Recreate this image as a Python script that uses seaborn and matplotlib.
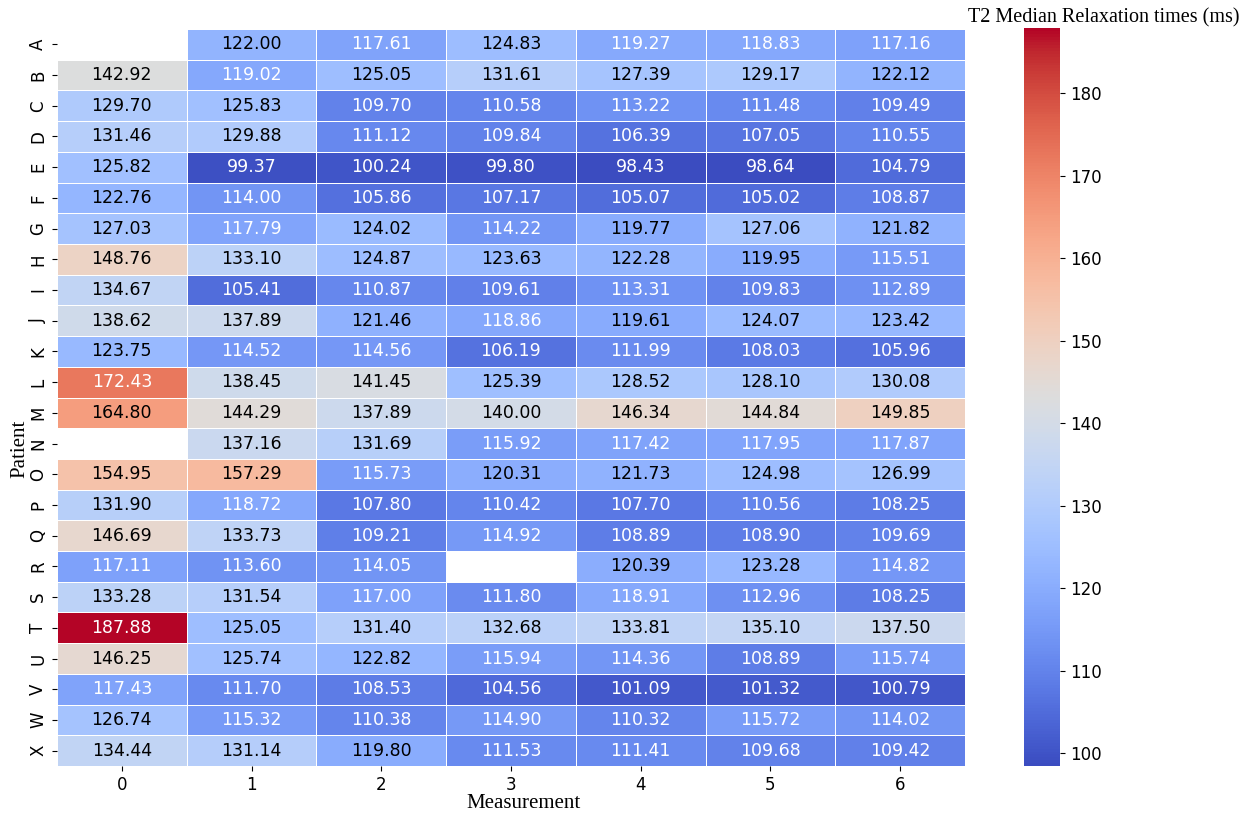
import numpy as np
import pandas as pd
import matplotlib
matplotlib.use('Agg')
import matplotlib.pyplot as plt
import seaborn as sns

nan = np.nan
patients = list('ABCDEFGHIJKLMNOPQRSTUVWX')
measurements = [0, 1, 2, 3, 4, 5, 6]

# T2 median relaxation times (ms), one list per measurement
m0 = [nan, 142.92, 129.70, 131.46, 125.82, 122.76, 127.03, 148.76, 134.67, 138.62, 123.75, 172.43,
      164.80, nan, 154.95, 131.90, 146.69, 117.11, 133.28, 187.88, 146.25, 117.43, 126.74, 134.44]
m1 = [122.00, 119.02, 125.83, 129.88, 99.37, 114.00, 117.79, 133.10, 105.41, 137.89, 114.52, 138.45,
      144.29, 137.16, 157.29, 118.72, 133.73, 113.60, 131.54, 125.05, 125.74, 111.70, 115.32, 131.14]
m2 = [117.61, 125.05, 109.70, 111.12, 100.24, 105.86, 124.02, 124.87, 110.87, 121.46, 114.56, 141.45,
      137.89, 131.69, 115.73, 107.80, 109.21, 114.05, 117.00, 131.40, 122.82, 108.53, 110.38, 119.80]
m3 = [124.83, 131.61, 110.58, 109.84, 99.80, 107.17, 114.22, 123.63, 109.61, 118.86, 106.19, 125.39,
      140.00, 115.92, 120.31, 110.42, 114.92, nan, 111.80, 132.68, 115.94, 104.56, 114.90, 111.53]
m4 = [119.27, 127.39, 113.22, 106.39, 98.43, 105.07, 119.77, 122.28, 113.31, 119.61, 111.99, 128.52,
      146.34, 117.42, 121.73, 107.70, 108.89, 120.39, 118.91, 133.81, 114.36, 101.09, 110.32, 111.41]
m5 = [118.83, 129.17, 111.48, 107.05, 98.64, 105.02, 127.06, 119.95, 109.83, 124.07, 108.03, 128.10,
      144.84, 117.95, 124.98, 110.56, 108.90, 123.28, 112.96, 135.10, 108.89, 101.32, 115.72, 109.68]
m6 = [117.16, 122.12, 109.49, 110.55, 104.79, 108.87, 121.82, 115.51, 112.89, 123.42, 105.96, 130.08,
      149.85, 117.87, 126.99, 108.25, 109.69, 114.82, 108.25, 137.50, 115.74, 100.79, 114.02, 109.42]

df = pd.DataFrame({0: m0, 1: m1, 2: m2, 3: m3, 4: m4, 5: m5, 6: m6}, index=patients)
df.columns = measurements

fig = plt.figure(figsize=(12.59, 8.15), dpi=100)
ax = fig.add_axes([57/1259, 49/815, 908/1259, 737/815])
cax = fig.add_axes([1024/1259, 49/815, 36/1259, 738/815])

sns.heatmap(df, ax=ax, cbar_ax=cax, cmap='coolwarm', annot=True, fmt='.2f',
            linewidths=0.6, linecolor='white', annot_kws={'fontsize': 12.5})

# dark labels in pure black like the original
for t in ax.texts:
    if t.get_color() != 'w':
        t.set_color('black')

ax.tick_params(labelsize=12, colors='black')
cax.tick_params(labelsize=12, colors='black')

ax.set_xlabel('Measurement', family='Liberation Serif', fontsize=15)
ax.set_ylabel('Patient', family='Liberation Serif', fontsize=15)
ax.xaxis.set_label_coords(0.514, -0.038)
ax.yaxis.set_label_coords(-0.03, 0.43)

fig.text(1104/1259, 1 - 18/815, 'T2 Median Relaxation times (ms)', family='Liberation Serif',
         fontsize=14.5, ha='center', va='center')

fig.savefig('out.png', dpi=100)
